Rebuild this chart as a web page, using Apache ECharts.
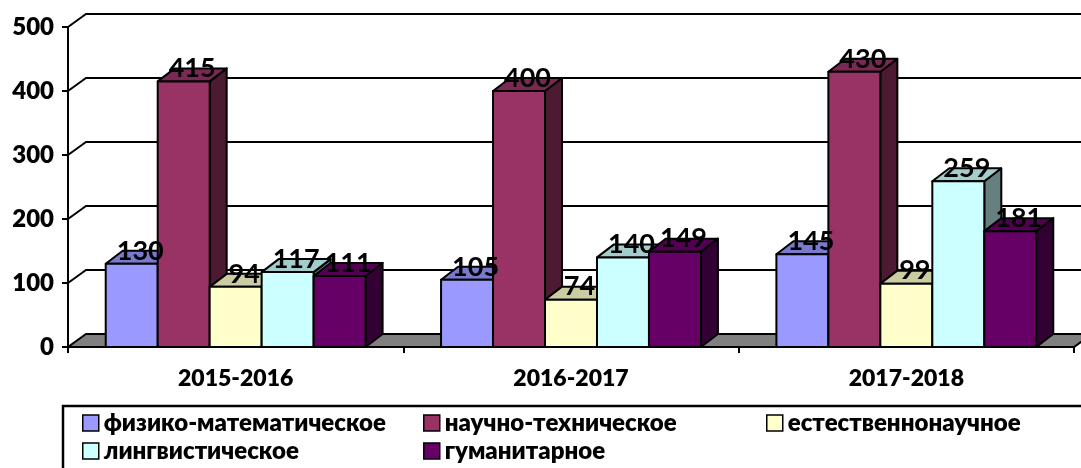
<!DOCTYPE html>
<html>
<head>
<meta charset="utf-8">
<script src="https://cdn.jsdelivr.net/npm/echarts@6/dist/echarts.min.js"></script>
<style>
    html, body { margin: 0; padding: 0; background: #fff; }
    #main { width: 1081px; height: 468px; }
</style>
</head>
<body>
<div id="main"></div>
<script>
    var years = ['2015-2016', '2016-2017', '2017-2018'];
    var names = ['физико-математическое', 'научно-техническое', 'естественнонаучное', 'лингвистическое', 'гуманитарное'];
    var fizMat = [130, 105, 145];
    var nauchTech = [415, 400, 430];
    var estNauch = [94, 74, 99];
    var lingv = [117, 140, 259];
    var guman = [111, 149, 181];
    var yTicks = [0, 100, 200, 300, 400, 500];

    var values = [fizMat, nauchTech, estNauch, lingv, guman];
    var colors = ['#9999FF', '#993366', '#FFFFCC', '#CCFFFF', '#660066'];

    // глубина "3D"
    var DX = 17, DY = -13;      // столбики
    var WX = 18, WY = -13;      // стенка и пол
    var BAR = 0.155;            // ширина столбика от ширины категории
    var FONT = 'Lato, "Open Sans", sans-serif';

    function shade(hex, k) {
        var n = parseInt(hex.slice(1), 16);
        var r = Math.round(((n >> 16) & 255) * k);
        var g = Math.round(((n >> 8) & 255) * k);
        var b = Math.round((n & 255) * k);
        return 'rgb(' + r + ',' + g + ',' + b + ')';
    }

    function barGeom(api, s) {
        var cat = api.value(0), val = api.value(1);
        var band = api.size([1, 0])[0];
        var bw = band * BAR;
        var top = api.coord([cat, val]);
        var base = api.coord([cat, 0]);
        var x0 = top[0] - bw * 2.5 + s * bw;
        return {x0: x0, bw: bw, yt: top[1], yb: base[1]};
    }

    function barRender(s) {
        return function (params, api) {
            var g = barGeom(api, s);
            var x0 = g.x0, x1 = g.x0 + g.bw, yt = g.yt, yb = g.yb;
            var line = {stroke: '#000', lineWidth: 2, lineJoin: 'round'};
            return {
                type: 'group',
                children: [
                    {
                        type: 'polygon',
                        shape: {points: [[x1, yt], [x1 + DX, yt + DY], [x1 + DX, yb + DY], [x1, yb]]},
                        style: Object.assign({fill: shade(colors[s], 0.5)}, line)
                    },
                    {
                        type: 'polygon',
                        shape: {points: [[x0, yt], [x1, yt], [x1 + DX, yt + DY], [x0 + DX, yt + DY]]},
                        style: Object.assign({fill: shade(colors[s], 0.8)}, line)
                    },
                    {
                        type: 'rect',
                        shape: {x: x0, y: yt, width: g.bw, height: yb - yt},
                        style: Object.assign({fill: colors[s]}, line)
                    }
                ]
            };
        };
    }

    var series = [];

    // задняя стенка и пол
    series.push({
        type: 'custom',
        z: 1,
        silent: true,
        data: yTicks.map(function (v) { return [0, v]; }),
        renderItem: function (params, api) {
            var band = api.size([1, 0])[0];
            var p = api.coord([0, api.value(1)]);
            var left = p[0] - band / 2;
            var right = api.coord([years.length - 1, 0])[0] + band / 2;
            var y = p[1];
            if (api.value(1) === 0) {
                return {
                    type: 'polygon',
                    shape: {points: [[left, y], [right, y], [right + WX, y + WY], [left + WX, y + WY]]},
                    style: {fill: '#808080', stroke: '#000', lineWidth: 2}
                };
            }
            return {
                type: 'polyline',
                shape: {points: [[left, y], [left + WX, y + WY], [right + WX + 20, y + WY]]},
                style: {fill: null, stroke: '#000', lineWidth: 2}
            };
        }
    });

    for (var s = 0; s < names.length; s++) {
        series.push({
            name: names[s],
            type: 'custom',
            z: 3 + s,
            itemStyle: {color: colors[s]},
            data: values[s].map(function (v, i) { return [i, v]; }),
            renderItem: barRender(s)
        });
    }

    // подписи значений поверх столбиков
    var labelData = [];
    for (var k = 0; k < names.length; k++) {
        for (var j = 0; j < years.length; j++) {
            labelData.push([j, values[k][j], k]);
        }
    }
    series.push({
        type: 'custom',
        z: 20,
        silent: true,
        data: labelData,
        renderItem: function (params, api) {
            var g = barGeom(api, api.value(2));
            return {
                type: 'text',
                style: {
                    text: String(api.value(1)),
                    x: g.x0 + g.bw / 2 + DX / 2,
                    y: g.yt - 13,
                    align: 'center',
                    verticalAlign: 'middle',
                    font: 'bold 27px ' + FONT,
                    fill: '#000'
                }
            };
        }
    });

    var legendBase = {
        orient: 'vertical',
        top: 411,
        padding: 0,
        itemWidth: 16,
        itemHeight: 16,
        itemGap: 4,
        icon: 'rect',
        selectedMode: false,
        itemStyle: {borderColor: '#000', borderWidth: 1.5},
        textStyle: {fontFamily: FONT, fontWeight: 800, fontSize: 24, lineHeight: 24, color: '#000'}
    };

    var option = {
        backgroundColor: '#fff',
        animation: false,
        grid: {left: 68, right: 7, top: 27, bottom: 121},
        xAxis: {
            type: 'category',
            data: years,
            axisLine: {lineStyle: {color: '#000', width: 2}},
            axisTick: {show: true, length: 6, lineStyle: {color: '#000', width: 2}},
            axisLabel: {margin: 20, color: '#000', fontFamily: FONT, fontWeight: 800, fontSize: 23},
            splitLine: {show: false}
        },
        yAxis: {
            type: 'value',
            min: 0,
            max: 500,
            interval: 100,
            axisLine: {show: true, lineStyle: {color: '#000', width: 2}},
            axisTick: {show: true, length: 6, lineStyle: {color: '#000', width: 2}},
            axisLabel: {margin: 14, color: '#000', fontFamily: FONT, fontWeight: 800, fontSize: 24},
            splitLine: {show: false}
        },
        legend: [
            Object.assign({}, legendBase, {left: 82, data: [names[0], names[3]]}),
            Object.assign({}, legendBase, {left: 423, data: [names[1], names[4]]}),
            Object.assign({}, legendBase, {left: 766, data: [names[2]]})
        ],
        graphic: [{
            type: 'rect',
            silent: true,
            shape: {x: 63, y: 406, width: 1100, height: 100},
            style: {fill: 'none', stroke: '#000', lineWidth: 2.5}
        }],
        series: series
    };

    var myChart = echarts.init(document.getElementById('main'));
    myChart.setOption(option);
</script>
</body>
</html>
